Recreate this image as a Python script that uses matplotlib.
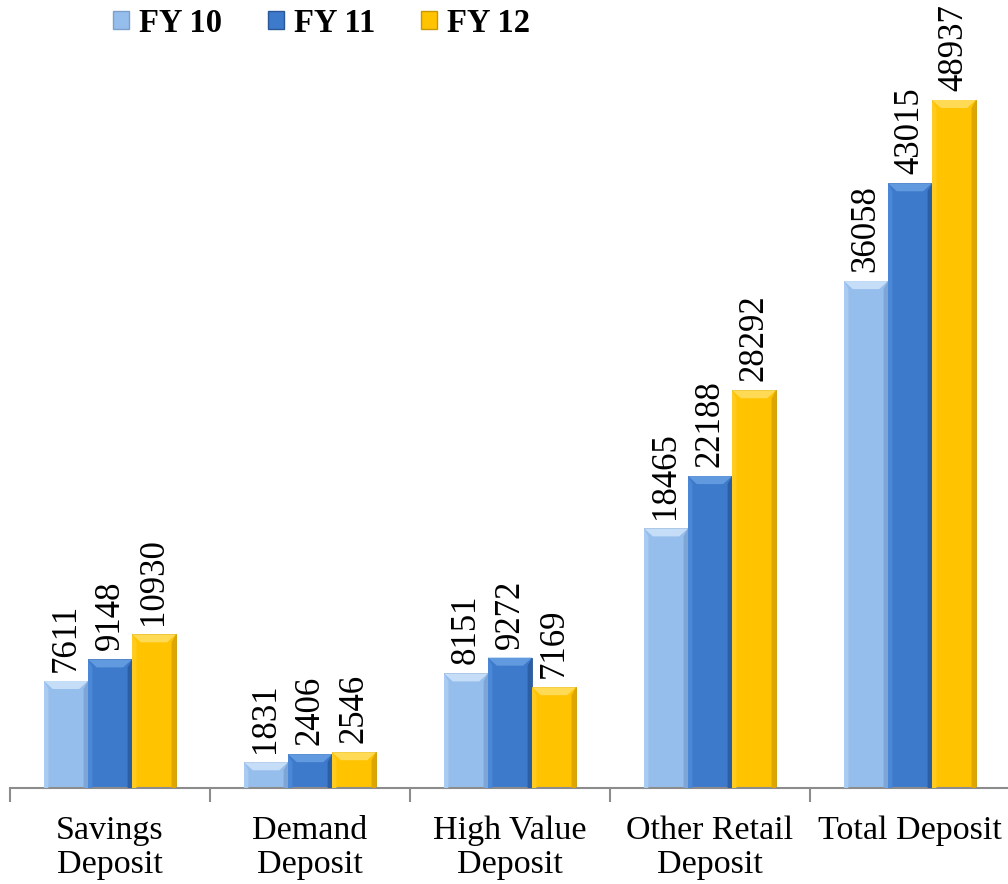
import matplotlib
matplotlib.use("Agg")
import matplotlib.pyplot as plt
import numpy as np
from matplotlib.patches import Polygon, Patch

categories = ["Savings\nDeposit", "Demand\nDeposit", "High Value\nDeposit",
              "Other Retail\nDeposit", "Total Deposit"]
series_names = ["FY 10", "FY 11", "FY 12"]
fy10 = [7611, 1831, 8151, 18465, 36058]
fy11 = [9148, 2406, 9272, 22188, 43015]
fy12 = [10930, 2546, 7169, 28292, 48937]
series = [fy10, fy11, fy12]

colors = ["#96BEEC", "#3D7ACB", "#FFC300"]
top_colors = ["#C6DDF7", "#629AE0", "#FFDA55"]
left_colors = ["#A9CAF1", "#4A87D6", "#FFCB20"]
right_colors = ["#7DA5D6", "#2C5EA3", "#DDA600"]
edge_colors = ["#7C9FCB", "#2A5896", "#C99700"]

plt.rcParams['font.family'] = ['Liberation Serif', 'DejaVu Serif']

W, H = 1008, 884
fig = plt.figure(figsize=(W / 100, H / 100), dpi=100)
ax = fig.add_axes([10 / W, (H - 788) / H, (1008 - 10) / W, (788 - 30) / H])

x = np.arange(len(categories))
bw = 0.22
offsets = [-bw, 0, bw]
px_per_unit = 688 / 48937.0
ax.set_xlim(-0.5, 4.49)
ax.set_ylim(0, (788 - 30) / px_per_unit)

bevel = 8 / px_per_unit   # bevel height in data units
side = 0.022              # side bevel width in data units
for vals, off, c, tc, lc, rc, ec in zip(series, offsets, colors, top_colors,
                                        left_colors, right_colors, edge_colors):
    bars = ax.bar(x + off, vals, bw, color=c, edgecolor=ec, linewidth=0.6, zorder=2)
    for b, v in zip(bars, vals):
        x0, w, h = b.get_x(), b.get_width(), b.get_height()
        inset = w * 0.2
        ax.add_patch(Polygon([[x0, 0], [x0, h], [x0 + side, h - bevel], [x0 + side, 0]],
                             closed=True, facecolor=lc, edgecolor='none', zorder=3))
        ax.add_patch(Polygon([[x0 + w, 0], [x0 + w, h], [x0 + w - side, h - bevel],
                              [x0 + w - side, 0]],
                             closed=True, facecolor=rc, edgecolor='none', zorder=3))
        ax.add_patch(Polygon([[x0, h], [x0 + w, h], [x0 + w - inset, h - bevel],
                              [x0 + inset, h - bevel]], closed=True,
                             facecolor=tc, edgecolor='none', zorder=4))
        ax.annotate(f"{v}", xy=(x0 + w / 2, h), xytext=(0, 6.5),
                    textcoords="offset points", rotation=90,
                    ha="center", va="bottom", fontsize=25, color="black")

for s in ["top", "right", "left"]:
    ax.spines[s].set_visible(False)
ax.spines["bottom"].set_color("#8C8C8C")
ax.spines["bottom"].set_linewidth(1.5)
ax.set_yticks([])
ax.set_xticks(x)
ax.set_xticklabels(categories, fontsize=24.5, linespacing=1.15)
ax.tick_params(axis="x", which="major", length=0, pad=20)
ax.set_xticks(np.arange(-0.5, 4.0, 1.0), minor=True)
ax.tick_params(axis="x", which="minor", length=10, width=1.5, color="#8C8C8C")

handles = [Patch(facecolor=c, edgecolor=ec) for c, ec in zip(colors, edge_colors)]
fig.legend(handles, series_names, loc="center left", bbox_to_anchor=(100 / W, 1 - 23 / H),
           ncol=3, frameon=False, handlelength=0.5, handleheight=0.5,
           handletextpad=0.3, columnspacing=1.4, borderaxespad=0,
           prop={"family": "Liberation Serif", "weight": "bold", "size": 23.5})

fig.savefig("out.png", dpi=100)
